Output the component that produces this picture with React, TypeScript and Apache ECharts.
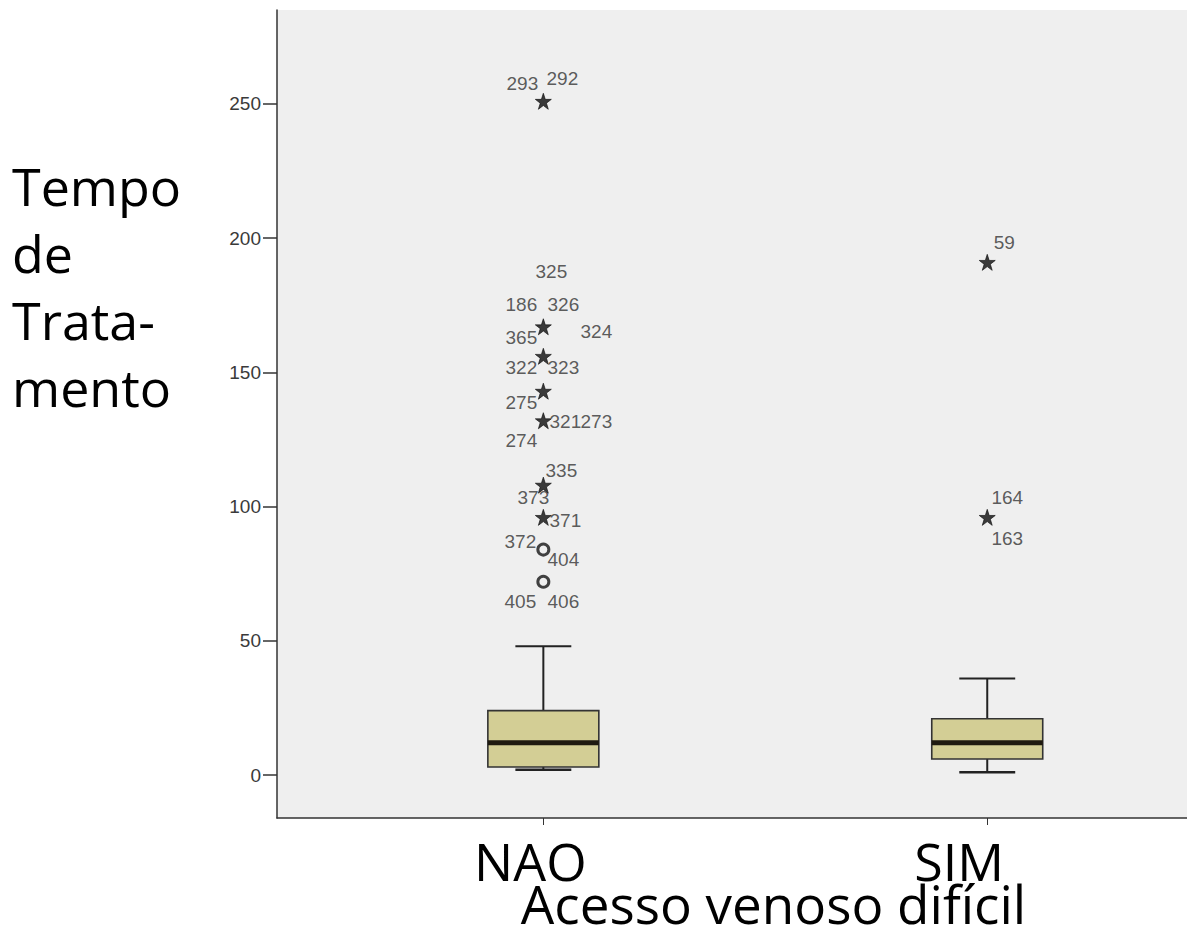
import React, { useEffect, useRef } from "react";
import * as echarts from "echarts";

// ---------- data ----------
const categories = ["NAO", "SIM"];
const categoryIndex = [0, 1];
const yTicks = [0, 50, 100, 150, 200, 250];
// [min, Q1, median, Q3, max]
const naoBox = [2, 3, 12, 24, 48];
const simBox = [1, 6, 12, 21, 36];

const outlierCategory = [0, 0, 0, 0, 0, 0, 0, 0, 0, 1, 1];
const outlierValues = [251, 167, 156, 143, 132, 108, 96, 84, 72, 191, 96];
const outlierKind = [
  "extreme", "extreme", "extreme", "extreme", "extreme", "extreme", "extreme",
  "outlier", "outlier", "extreme", "extreme",
];
const outlierCaseIds = [
  ["293", "292"],
  ["325", "186", "326", "365", "324"],
  ["322", "323"],
  ["275"],
  ["321", "273", "274"],
  ["335", "373"],
  ["371"],
  ["372", "404"],
  ["405", "406"],
  ["59"],
  ["164", "163"],
];

// ---------- label placement (styling) ----------
const caseLabelOffsets = [
  [[-21, -18], [19, -23]],
  [[8, -55], [-22, -22], [20, -22], [-22, 11], [53, 5]],
  [[-22, 11], [20, 11]],
  [[-22, 11]],
  [[22, 1], [53, 1], [-22, 20]],
  [[18, -15], [-10, 12]],
  [[22, 3]],
  [[-23, -8], [20, 10]],
  [[-23, 20], [20, 20]],
  [[17, -20]],
  [[20, -20], [20, 21]],
];

const STAR =
  "path://M50,0L61.8,35.3L99,35.3L69,57.2L80.3,92.5L50,70.8L19.7,92.5L31,57.2L1,35.3L38.2,35.3Z";
const SMALL_FONT = "'Liberation Sans', Arial, sans-serif";
const BIG_FONT = "'Open Sans', 'Noto Sans', sans-serif";
const Y_MIN = -16;
const Y_MAX = 285;
const X_MIN = -0.6;
const X_MAX = 1.45;

export default function App() {
  const ref = useRef<HTMLDivElement>(null);

  useEffect(() => {
    if (!ref.current) return;
    document.body.style.margin = "0";
    document.body.style.overflow = "hidden";
    document.documentElement.style.overflow = "hidden";
    const chart = echarts.init(ref.current, null, {
      renderer: "svg",
      width: 1187,
      height: 932,
    });

    const boxData = [naoBox, simBox].map((b, i) => [categoryIndex[i], ...b]);

    const markData = outlierValues.map((v, i) => {
      const ext = outlierKind[i] === "extreme";
      return {
        value: [outlierCategory[i], v],
        symbol: ext ? STAR : "circle",
        symbolSize: ext ? 16 : 11,
        itemStyle: ext
          ? { color: "#0d0d0d", borderColor: "#0d0d0d", borderWidth: 0.8 }
          : { color: "rgba(0,0,0,0)", borderColor: "#141414", borderWidth: 3 },
      };
    });

    const labelData: any[] = [];
    outlierCaseIds.forEach((ids, i) => {
      ids.forEach((id, j) => {
        labelData.push({
          name: id,
          value: [outlierCategory[i], outlierValues[i]],
          label: { offset: caseLabelOffsets[i][j] },
        });
      });
    });

    const option: any = {
      animation: false,
      backgroundColor: "#ffffff",
      grid: {
        left: 277,
        right: 0,
        top: 10,
        bottom: 114,
        show: true,
        backgroundColor: "#efefef",
        borderWidth: 0,
        outerBoundsMode: "none",
        containLabel: false,
      },
      xAxis: {
        type: "value",
        min: X_MIN,
        max: X_MAX,
        axisLine: { show: true, onZero: false, lineStyle: { color: "#333", width: 1.5 } },
        axisTick: {
          show: true,
          customValues: categoryIndex,
          length: 7,
          lineStyle: { color: "#333" },
        },
        splitLine: { show: false },
        axisLabel: {
          customValues: categoryIndex,
          margin: 22,
          formatter: (v: number) => `{c${v}|${categories[v]}}`,
          rich: {
            c0: { fontFamily: BIG_FONT, fontSize: 52, lineHeight: 40, color: "#000", padding: [0, 26, 0, 0] },
            c1: { fontFamily: BIG_FONT, fontSize: 52, lineHeight: 40, color: "#000", padding: [0, 56, 0, 0] },
          },
        },
        name: "Acesso venoso difícil",
        nameLocation: "middle",
        nameGap: 85,
        nameMoveOverlap: false,
        nameTextStyle: {
          fontFamily: BIG_FONT,
          fontSize: 53,
          lineHeight: 40,
          verticalAlign: "middle",
          color: "#000",
          padding: [0, 0, 0, 83],
        },
      },
      yAxis: {
        type: "value",
        min: Y_MIN,
        max: Y_MAX,
        axisLine: { show: true, onZero: false, lineStyle: { color: "#333", width: 1.5 } },
        axisTick: {
          show: true,
          length: 14,
          customValues: yTicks,
          lineStyle: { color: "#333", width: 1.5 },
        },
        axisLabel: {
          customValues: yTicks,
          margin: 16,
          fontFamily: SMALL_FONT,
          fontSize: 19,
          color: "#3a3a3a",
        },
        splitLine: { show: false },
      },
      series: [
        {
          type: "custom",
          silent: true,
          data: boxData,
          renderItem: (params: any, api: any) => {
            const cat = api.value(0);
            const band = api.size([1, 0])[0];
            const halfW = band * 0.125;
            const capHalf = band * 0.063;
            const x = api.coord([cat, 0])[0];
            const yMin = api.coord([cat, api.value(1)])[1];
            const yQ1 = api.coord([cat, api.value(2)])[1];
            const yMed = api.coord([cat, api.value(3)])[1];
            const yQ3 = api.coord([cat, api.value(4)])[1];
            const yMax = api.coord([cat, api.value(5)])[1];
            const stroke = { stroke: "#222", lineWidth: 2 };
            return {
              type: "group",
              children: [
                { type: "line", shape: { x1: x, y1: yQ3, x2: x, y2: yMax }, style: stroke },
                { type: "line", shape: { x1: x - capHalf, y1: yMax, x2: x + capHalf, y2: yMax }, style: stroke },
                { type: "line", shape: { x1: x, y1: yQ1, x2: x, y2: yMin }, style: stroke },
                { type: "line", shape: { x1: x - capHalf, y1: yMin, x2: x + capHalf, y2: yMin }, style: { stroke: "#222", lineWidth: 2.5 } },
                {
                  type: "rect",
                  shape: { x: x - halfW, y: yQ3, width: halfW * 2, height: yQ1 - yQ3 },
                  style: { fill: "#d3ce95", stroke: "#333", lineWidth: 1.6 },
                },
                {
                  type: "line",
                  shape: { x1: x - halfW, y1: yMed, x2: x + halfW, y2: yMed },
                  style: { stroke: "#1f1a10", lineWidth: 5 },
                },
              ],
            };
          },
        },
        {
          type: "scatter",
          silent: true,
          data: markData,
          z: 3,
        },
        {
          type: "scatter",
          silent: true,
          symbol: "circle",
          symbolSize: 0.1,
          itemStyle: { color: "rgba(0,0,0,0)" },
          z: 4,
          data: labelData,
          label: {
            show: true,
            position: "inside",
            formatter: "{b}",
            fontFamily: SMALL_FONT,
            fontSize: 19,
            color: "#333",
          },
        },
      ],
      graphic: [
        {
          type: "text",
          left: 12,
          top: 152,
          style: {
            text: "Tempo\nde\nTrata-\nmento",
            fontFamily: BIG_FONT,
            fontSize: 52,
            lineHeight: 67,
            fill: "#000",
          },
        },
      ],
    };

    chart.setOption(option);
    return () => chart.dispose();
  }, []);

  return <div ref={ref} style={{ width: 1187, height: 932 }} />;
}
